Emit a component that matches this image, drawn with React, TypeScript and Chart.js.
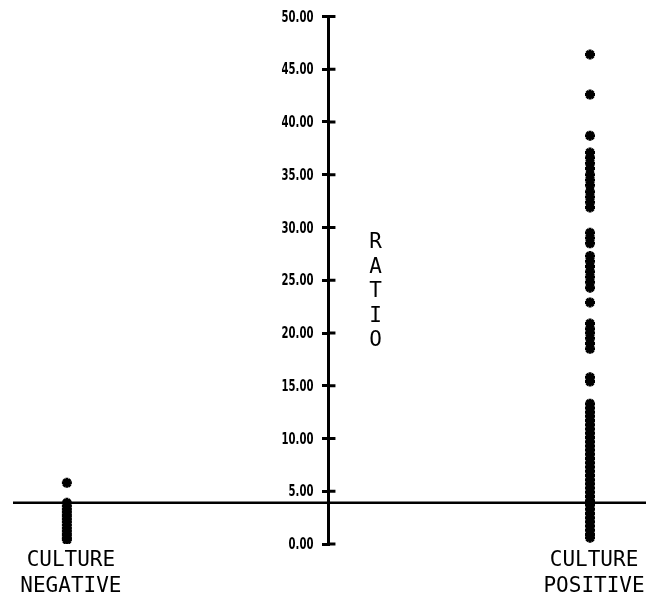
import { useEffect, useRef } from "react";
import { Chart, registerables } from "chart.js";

Chart.register(...registerables);

// ---- data ----
const categories = ["CULTURE NEGATIVE", "CULTURE POSITIVE"];
const categoryLines = [
  ["CULTURE", "NEGATIVE"],
  ["CULTURE", "POSITIVE"],
];
const categoryPositions = [1, 2];
const axisPosition = 1.5;

const negativeValues = [5.8, 3.9, 3.6, 3.3, 3.0, 2.7, 2.4, 2.1, 1.8, 1.5, 1.2, 0.9, 0.6, 0.4];

const positiveValues = [
  46.4, 42.6, 38.7,
  37.1, 36.6, 36.1, 35.6, 35.0, 34.5, 34.0, 33.4, 32.9, 32.4, 31.9,
  29.5, 29.0, 28.5,
  27.3, 26.8, 26.3, 25.8, 25.3, 24.8, 24.3,
  22.9,
  20.9, 20.4, 20.0, 19.5, 19.0, 18.5,
  15.8, 15.4,
  13.3, 12.9, 12.5, 12.1, 11.7, 11.3, 10.9, 10.5, 10.1, 9.7, 9.3, 8.9, 8.5,
  8.1, 7.7, 7.3, 6.9, 6.5, 6.1, 5.7, 5.3, 4.9, 4.5, 4.1, 3.7, 3.3, 2.9, 2.5,
  2.1, 1.7, 1.3, 0.9, 0.6,
];

const cutoffValue = 3.9;
const yMin = 0;
const yMax = 50;
const yStep = 5;
const xMin = 0.897;
const xMax = 2.107;
const axisTitle = "RATIO";
const titleCenterValue = 23.9;

const monoFont = '"DejaVu Sans Mono", monospace';
const tickFont = '"DejaVu Sans Condensed", "DejaVu Sans", sans-serif';
const formatTick = (v: number) => Number(v).toFixed(2);

const overlayPlugin = {
  id: "crossTicksAndTitle",
  afterDraw(chart: any) {
    const { ctx, scales } = chart;
    const x = scales.x;
    const y = scales.y;
    const ax = x.getPixelForValue(axisPosition);
    ctx.save();
    ctx.strokeStyle = "#000";
    ctx.lineWidth = 3;
    ctx.fillStyle = "#000";
    ctx.font = `bold 16px ${tickFont}`;
    ctx.textAlign = "right";
    ctx.textBaseline = "middle";
    y.ticks.forEach((t: any) => {
      const py = y.getPixelForValue(t.value);
      ctx.beginPath();
      ctx.moveTo(ax, py);
      ctx.lineTo(ax + 7, py);
      ctx.stroke();
      const label = formatTick(t.value);
      const w = ctx.measureText(label).width;
      ctx.fillText(label, ax - 15, py + 1, w * 0.7);
    });
    ctx.font = `21px ${monoFont}`;
    ctx.textAlign = "center";
    const letters = axisTitle.split("");
    const tx = ax + 47;
    const cy = y.getPixelForValue(titleCenterValue);
    letters.forEach((ch, i) => {
      ctx.fillText(ch, tx, cy + (i - (letters.length - 1) / 2) * 24.5);
    });
    ctx.restore();
  },
};

export default function App() {
  const canvasRef = useRef<HTMLCanvasElement | null>(null);

  useEffect(() => {
    if (!canvasRef.current) return;
    const pointStyle = {
      pointStyle: "star" as const,
      pointRadius: 5,
      pointBorderWidth: 3,
      pointBorderColor: "#000",
      pointBackgroundColor: "#000",
      showLine: false,
    };
    const chart = new Chart(canvasRef.current, {
      type: "scatter",
      data: {
        datasets: [
          {
            label: "cutoff",
            data: [
              { x: xMin, y: cutoffValue },
              { x: xMax, y: cutoffValue },
            ],
            showLine: true,
            borderColor: "#000",
            borderWidth: 2.5,
            pointRadius: 0,
          },
          {
            label: categories[0],
            data: negativeValues.map((v) => ({ x: categoryPositions[0], y: v })),
            ...pointStyle,
          },
          {
            label: categories[1],
            data: positiveValues.map((v) => ({ x: categoryPositions[1], y: v })),
            ...pointStyle,
          },
        ],
      },
      options: {
        animation: false,
        responsive: true,
        maintainAspectRatio: false,
        layout: { padding: { top: 16.5, left: 13, right: 6, bottom: 3 } },
        plugins: {
          legend: { display: false },
          tooltip: { enabled: false },
        },
        scales: {
          x: {
            type: "linear",
            min: xMin,
            max: xMax,
            afterBuildTicks: (scale: any) => {
              scale.ticks = categoryPositions.map((v) => ({ value: v }));
            },
            grid: { display: false, drawTicks: false },
            border: { display: false },
            ticks: {
              autoSkip: false,
              maxRotation: 0,
              padding: 4,
              labelOffset: 4,
              color: "#000",
              font: { family: monoFont, size: 21, lineHeight: 26 / 21 },
              callback: (v: any) => {
                const i = categoryPositions.indexOf(Number(v));
                return i >= 0 ? categoryLines[i] : "";
              },
            },
          },
          y: {
            type: "linear",
            position: { x: axisPosition } as any,
            min: yMin,
            max: yMax,
            grid: {
              drawOnChartArea: false,
              drawTicks: true,
              tickLength: 5,
              lineWidth: 3,
              color: "#000",
            },
            border: { display: true, color: "#000", width: 3 },
            ticks: {
              display: false,
              stepSize: yStep,
              callback: (v: any) => formatTick(v),
            },
          },
        },
      },
      plugins: [overlayPlugin],
    });
    return () => chart.destroy();
  }, []);

  return (
    <div style={{ position: "absolute", left: 0, top: 0, width: 654, height: 607, background: "#fff" }}>
      <canvas ref={canvasRef} />
    </div>
  );
}
